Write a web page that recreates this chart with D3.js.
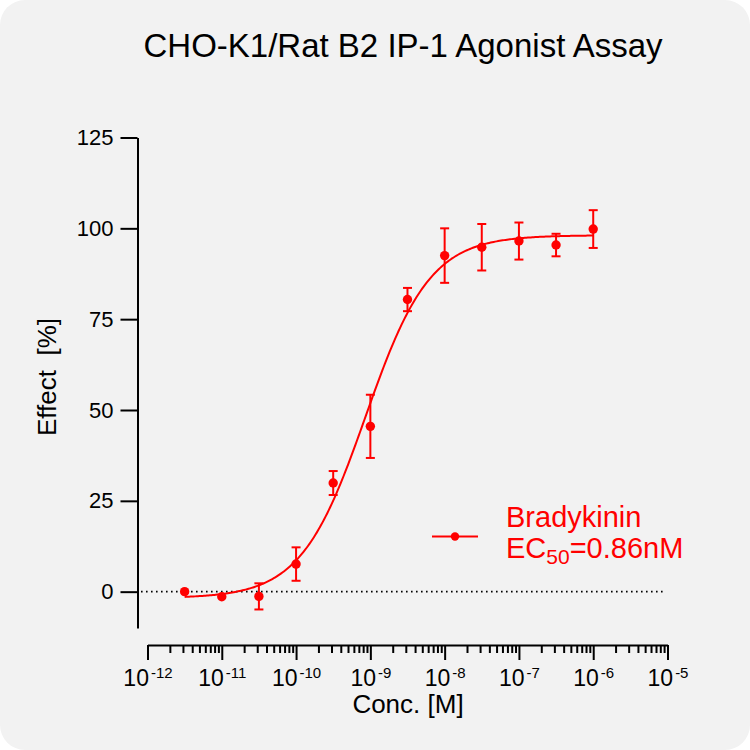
<!DOCTYPE html>
<html>
<head>
<meta charset="utf-8">
<script src="https://cdn.jsdelivr.net/npm/d3@7"></script>
<style>
  html, body { margin: 0; padding: 0; background: #ffffff; }
  svg { display: block; }
  text { font-family: "Liberation Sans", Arial, sans-serif; }
</style>
</head>
<body>
<svg id="chart"></svg>
<script>
var w = 750;
var h = 750;

// data
var conc = [3.16e-12, 1e-11, 3.16e-11, 1e-10, 3.16e-10, 1e-9, 3.16e-9, 1e-8, 3.16e-8, 1e-7, 3.16e-7, 1e-6];
var effect = [0, -1.4, -1.3, 7.6, 29.9, 45.5, 80.4, 92.5, 94.8, 96.5, 95.4, 99.8];
var sem = [0, 0, 3.6, 4.6, 3.3, 8.7, 3.2, 7.5, 6.4, 5.1, 3.1, 5.2];

// fitted 4PL curve parameters
var fitBottom = -1.8;
var fitTop = 98.1;
var fitEC50 = 0.86e-9;
var fitHill = 1.0;

var yTicks = [0, 25, 50, 75, 100, 125];
var xExponents = [-12, -11, -10, -9, -8, -7, -6, -5];

var red = '#ff0000';

var svg = d3.select('#chart').attr('width', w).attr('height', h);

svg.append('rect')
  .attr('x', 0).attr('y', 0)
  .attr('width', w).attr('height', h)
  .attr('rx', 25).attr('ry', 25)
  .attr('fill', '#f2f2f2');

var x = d3.scaleLog().domain([1e-12, 1e-5]).range([147.5, 667.5]);
var y = d3.scaleLinear().domain([-10, 125]).range([628, 137.5]);

// title
svg.append('text')
  .attr('x', 403).attr('y', 57)
  .attr('text-anchor', 'middle')
  .attr('font-size', '33px')
  .attr('fill', '#000')
  .text('CHO-K1/Rat B2 IP-1 Agonist Assay');

// zero line
svg.append('line')
  .attr('x1', 141).attr('x2', 666)
  .attr('y1', y(0)).attr('y2', y(0))
  .attr('stroke', '#000')
  .attr('stroke-width', 1.6)
  .attr('stroke-dasharray', '1.6 3.4');

// y axis
var yAxis = svg.append('g')
  .attr('transform', 'translate(137.5,0)')
  .call(d3.axisLeft(y).tickValues(yTicks).tickSize(17).tickSizeOuter(0).tickPadding(7));
yAxis.select('.domain').attr('stroke-width', 2);
yAxis.selectAll('.tick line').attr('stroke-width', 2);
yAxis.selectAll('.tick text')
  .attr('font-size', '22px')
  .attr('font-family', '"Liberation Sans", Arial, sans-serif')
  .attr('fill', '#000');

// x axis, minor ticks
var minors = [];
xExponents.slice(0, -1).forEach(function (e) {
  for (var k = 2; k <= 9; k++) minors.push(k * Math.pow(10, e));
});
var xMinor = svg.append('g')
  .attr('transform', 'translate(0,645)')
  .call(d3.axisBottom(x).tickValues(minors).tickSize(8).tickSizeOuter(0).tickFormat(''));
xMinor.select('.domain').remove();
xMinor.selectAll('.tick line').attr('stroke-width', 2);

// x axis, decades
var xAxis = svg.append('g')
  .attr('transform', 'translate(0,645)')
  .call(d3.axisBottom(x)
    .tickValues(xExponents.map(function (e) { return Math.pow(10, e); }))
    .tickSize(15).tickSizeOuter(0).tickFormat(''));
xAxis.select('.domain').attr('stroke-width', 2);
xAxis.selectAll('.tick line').attr('stroke-width', 2);
xAxis.selectAll('.tick').each(function (d) {
  var t = d3.select(this).append('text')
    .attr('y', 41)
    .attr('text-anchor', 'middle')
    .attr('fill', '#000')
    .attr('font-size', '23px')
    .attr('font-family', '"Liberation Sans", Arial, sans-serif');
  t.append('tspan').text('10');
  t.append('tspan')
    .attr('dy', -8)
    .attr('dx', 2)
    .attr('font-size', '15px')
    .text('-' + Math.round(-Math.log10(d)));
});

// axis titles
svg.append('text')
  .attr('x', 408).attr('y', 713)
  .attr('text-anchor', 'middle')
  .attr('font-size', '26px')
  .attr('fill', '#000')
  .text('Conc. [M]');

svg.append('text')
  .attr('transform', 'translate(56,377) rotate(-90)')
  .attr('text-anchor', 'middle')
  .attr('font-size', '26px')
  .attr('fill', '#000')
  .attr('xml:space', 'preserve')
  .style('white-space', 'pre')
  .text('Effect  [%]');

// fitted curve
var curveX = d3.range(-11.5, -5.999, 0.02).map(function (e) { return Math.pow(10, e); });
function fit(c) {
  return fitBottom + (fitTop - fitBottom) / (1 + Math.pow(fitEC50 / c, fitHill));
}
svg.append('path')
  .datum(curveX)
  .attr('fill', 'none')
  .attr('stroke', red)
  .attr('stroke-width', 2)
  .attr('d', d3.line()
    .x(function (c) { return x(c); })
    .y(function (c) { return y(fit(c)); }));

// error bars
var pts = conc.map(function (c, i) { return {c: c, v: effect[i], e: sem[i]}; });
var eb = svg.append('g').attr('stroke', red).attr('stroke-width', 2);
pts.filter(function (d) { return d.e > 0; }).forEach(function (d) {
  var cx = x(d.c);
  eb.append('line').attr('x1', cx).attr('x2', cx).attr('y1', y(d.v - d.e)).attr('y2', y(d.v + d.e));
  eb.append('line').attr('x1', cx - 4.5).attr('x2', cx + 4.5).attr('y1', y(d.v + d.e)).attr('y2', y(d.v + d.e));
  eb.append('line').attr('x1', cx - 4.5).attr('x2', cx + 4.5).attr('y1', y(d.v - d.e)).attr('y2', y(d.v - d.e));
});

// points
svg.selectAll('circle.pt')
  .data(pts)
  .enter()
  .append('circle')
  .attr('class', 'pt')
  .attr('r', 4.7)
  .attr('cx', function (d) { return x(d.c); })
  .attr('cy', function (d) { return y(d.v); })
  .attr('fill', red);

// legend
svg.append('line')
  .attr('x1', 432).attr('x2', 478)
  .attr('y1', 536.5).attr('y2', 536.5)
  .attr('stroke', red).attr('stroke-width', 2);
svg.append('circle')
  .attr('cx', 455).attr('cy', 536.5).attr('r', 4.2)
  .attr('fill', red);
svg.append('text')
  .attr('x', 506).attr('y', 527)
  .attr('font-size', '29px')
  .attr('fill', red)
  .text('Bradykinin');
var ec = svg.append('text')
  .attr('x', 506).attr('y', 558)
  .attr('font-size', '29px')
  .attr('fill', red);
ec.append('tspan').text('EC');
ec.append('tspan').attr('font-size', '21px').attr('dy', 6).text('50');
ec.append('tspan').attr('dy', -6).text('=0.86nM');
</script>
</body>
</html>
